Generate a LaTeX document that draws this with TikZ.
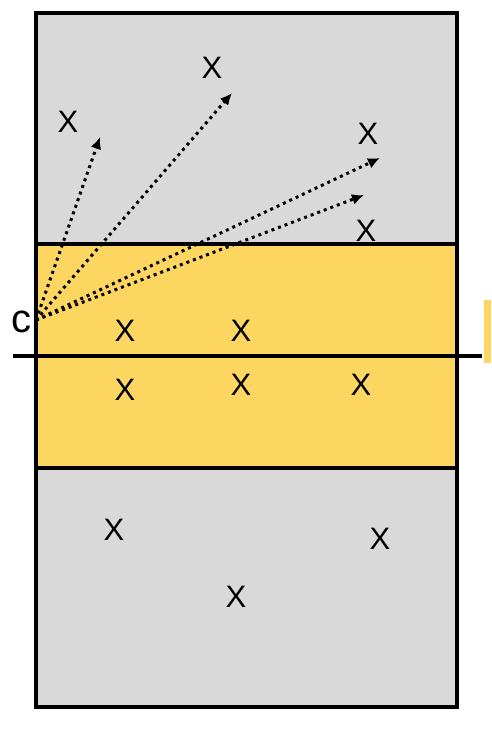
\documentclass[tikz,border=0pt]{standalone}
\usepackage{fontspec}
\setmainfont{Liberation Sans}
\usepackage{tikz}
\usetikzlibrary{arrows.meta}
\definecolor{court}{RGB}{217,217,217}
\definecolor{zone}{RGB}{252,214,96}

\begin{document}
\begin{tikzpicture}[x=1pt, y=-1pt,
		player/.style={font=\fontsize{31pt}{31pt}\selectfont, inner sep=0pt},
		pass/.style={line width=3pt, dash pattern=on 3pt off 4pt, -{Latex[length=12pt, width=11pt]}}]
		\useasboundingbox (0, 0) rectangle (492, 732);
		\fill[court] (36, 13) rectangle (457, 707);
		\fill[zone] (36, 244) rectangle (457, 468);
		\fill[zone] (484, 300) rectangle (491, 363);
		\draw[line width=3.5pt] (36, 244) -- (457, 244);
		\draw[line width=3.5pt] (36, 468) -- (457, 468);
		\draw[line width=4pt] (36, 13) rectangle (457, 707);
		\draw[line width=3.5pt] (13, 356) -- (482, 356);
		% players
		\foreach \i/\a/\b in {1/68/122, 2/212/68, 3/368/134, 4/366/231, 5/125/331, 6/241/331, 7/125/390, 8/241/385, 9/361/385, 10/114/530, 11/380/539, 12/236/597}
			\node[player] (x\i) at (\a, \b) {X};
		\node[player, font=\fontsize{40pt}{40pt}\selectfont] (c) at (22, 322) {c};
		\coordinate (o) at (36, 320);
		\foreach \j/\a/\b in {1/100/137, 2/232/93, 3/380/158, 4/364/195}
			\coordinate (t\j) at (\a, \b);
		\foreach \j in {1, 2, 3, 4}
			\draw[pass] (o) -- (t\j);
	\end{tikzpicture}
\end{document}
